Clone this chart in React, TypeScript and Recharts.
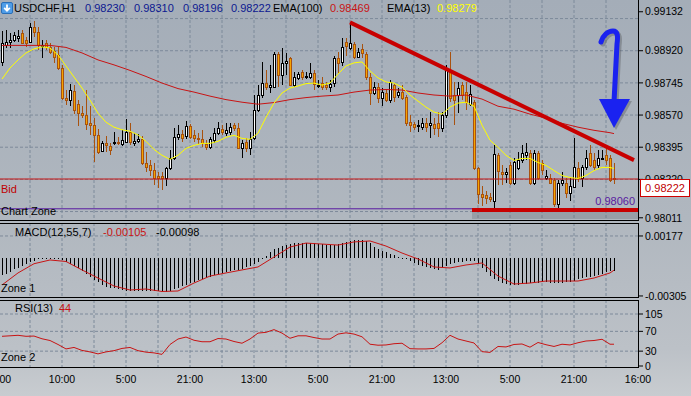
import React from 'react'
import { ComposedChart, Bar, Line, XAxis, YAxis, CartesianGrid, ReferenceLine, ReferenceArea } from 'recharts'

// USDCHF H1 candles, one per hour
const opens = [
  0.98859, 0.98952, 0.98968, 0.98979, 0.98990, 0.99018, 0.98979, 0.98968, 0.99050, 0.99023,
  0.98946, 0.98963, 0.98941, 0.98919, 0.98897, 0.98826, 0.98662, 0.98651, 0.98700, 0.98629,
  0.98580, 0.98569, 0.98525, 0.98515, 0.98460, 0.98372, 0.98416, 0.98400, 0.98416, 0.98421,
  0.98410, 0.98421, 0.98476, 0.98416, 0.98427, 0.98438, 0.98307, 0.98296, 0.98269, 0.98236,
  0.98236, 0.98225, 0.98280, 0.98334, 0.98449, 0.98465, 0.98454, 0.98509, 0.98460, 0.98443,
  0.98438, 0.98410, 0.98394, 0.98432, 0.98471, 0.98493, 0.98471, 0.98476, 0.98515, 0.98498,
  0.98389, 0.98421, 0.98389, 0.98443, 0.98597, 0.98679, 0.98744, 0.98722, 0.98722, 0.98903,
  0.98788, 0.98854, 0.98881, 0.98733, 0.98771, 0.98804, 0.98777, 0.98777, 0.98799, 0.98728,
  0.98744, 0.98733, 0.98722, 0.98744, 0.98881, 0.98859, 0.98968, 0.98936, 0.98957, 0.98886,
  0.98930, 0.98903, 0.98777, 0.98690, 0.98722, 0.98662, 0.98690, 0.98651, 0.98733, 0.98679,
  0.98695, 0.98668, 0.98531, 0.98520, 0.98509, 0.98504, 0.98525, 0.98515, 0.98520, 0.98525,
  0.98498, 0.98569, 0.98815, 0.98679, 0.98679, 0.98733, 0.98695, 0.98629, 0.98640, 0.98280,
  0.98143, 0.98137, 0.98126, 0.98104, 0.98350, 0.98258, 0.98247, 0.98296, 0.98203, 0.98280,
  0.98323, 0.98350, 0.98361, 0.98198, 0.98361, 0.98307, 0.98230, 0.98230, 0.98214, 0.98088,
  0.98198, 0.98198, 0.98148, 0.98176, 0.98280, 0.98230, 0.98285, 0.98361, 0.98323, 0.98296,
  0.98334, 0.98350, 0.98339, 0.98230,
]
const highs = [
  0.99028, 0.99034, 0.99018, 0.99023, 0.99034, 0.99034, 0.98996, 0.99072, 0.99083, 0.99050,
  0.98979, 0.98979, 0.98963, 0.98941, 0.98941, 0.98843, 0.98706, 0.98739, 0.98733, 0.98651,
  0.98618, 0.98706, 0.98618, 0.98553, 0.98493, 0.98427, 0.98454, 0.98416, 0.98476, 0.98449,
  0.98487, 0.98547, 0.98525, 0.98471, 0.98465, 0.98454, 0.98367, 0.98323, 0.98307, 0.98258,
  0.98258, 0.98290, 0.98378, 0.98498, 0.98515, 0.98487, 0.98536, 0.98520, 0.98487, 0.98471,
  0.98487, 0.98432, 0.98449, 0.98498, 0.98531, 0.98515, 0.98525, 0.98525, 0.98525, 0.98525,
  0.98432, 0.98443, 0.98476, 0.98679, 0.98733, 0.98859, 0.98815, 0.98843, 0.98914, 0.98914,
  0.98936, 0.98908, 0.98886, 0.98804, 0.98804, 0.98815, 0.98804, 0.98854, 0.98815, 0.98761,
  0.98777, 0.98750, 0.98761, 0.98892, 0.98914, 0.98990, 0.98990, 0.99078, 0.98968, 0.98936,
  0.98957, 0.98914, 0.98799, 0.98750, 0.98744, 0.98717, 0.98706, 0.98761, 0.98744, 0.98717,
  0.98733, 0.98679, 0.98569, 0.98531, 0.98542, 0.98553, 0.98553, 0.98586, 0.98553, 0.98586,
  0.98586, 0.98843, 0.98914, 0.98750, 0.98750, 0.98750, 0.98750, 0.98733, 0.98651, 0.98290,
  0.98186, 0.98159, 0.98148, 0.98405, 0.98361, 0.98296, 0.98280, 0.98312, 0.98334, 0.98367,
  0.98405, 0.98416, 0.98378, 0.98378, 0.98372, 0.98323, 0.98269, 0.98247, 0.98225, 0.98214,
  0.98258, 0.98225, 0.98230, 0.98443, 0.98312, 0.98296, 0.98378, 0.98405, 0.98361, 0.98378,
  0.98378, 0.98389, 0.98350, 0.98310,
]
const lows = [
  0.98837, 0.98936, 0.98936, 0.98968, 0.98968, 0.98957, 0.98941, 0.98963, 0.98996, 0.98925,
  0.98881, 0.98925, 0.98903, 0.98854, 0.98815, 0.98651, 0.98624, 0.98618, 0.98575, 0.98509,
  0.98553, 0.98487, 0.98460, 0.98312, 0.98356, 0.98367, 0.98367, 0.98350, 0.98405, 0.98405,
  0.98400, 0.98416, 0.98405, 0.98400, 0.98416, 0.98296, 0.98258, 0.98236, 0.98186, 0.98170,
  0.98159, 0.98186, 0.98269, 0.98323, 0.98432, 0.98421, 0.98438, 0.98438, 0.98421, 0.98410,
  0.98394, 0.98378, 0.98383, 0.98416, 0.98460, 0.98460, 0.98454, 0.98460, 0.98482, 0.98383,
  0.98334, 0.98367, 0.98350, 0.98432, 0.98586, 0.98662, 0.98706, 0.98690, 0.98717, 0.98722,
  0.98733, 0.98788, 0.98728, 0.98722, 0.98761, 0.98761, 0.98766, 0.98766, 0.98706, 0.98717,
  0.98706, 0.98706, 0.98695, 0.98722, 0.98799, 0.98837, 0.98892, 0.98925, 0.98875, 0.98881,
  0.98881, 0.98761, 0.98624, 0.98679, 0.98635, 0.98618, 0.98640, 0.98635, 0.98640, 0.98662,
  0.98651, 0.98509, 0.98476, 0.98487, 0.98476, 0.98487, 0.98476, 0.98443, 0.98460, 0.98449,
  0.98476, 0.98553, 0.98640, 0.98515, 0.98580, 0.98651, 0.98597, 0.98618, 0.98269, 0.98088,
  0.98077, 0.98088, 0.98099, 0.98061, 0.98186, 0.98186, 0.98198, 0.98186, 0.98186, 0.98269,
  0.98307, 0.98323, 0.98186, 0.98186, 0.98214, 0.98241, 0.98214, 0.98192, 0.98066, 0.98061,
  0.98181, 0.98115, 0.98104, 0.98170, 0.98203, 0.98176, 0.98269, 0.98285, 0.98269, 0.98280,
  0.98323, 0.98296, 0.98203, 0.98196,
]
const closes = [
  0.98963, 0.98968, 0.98979, 0.99007, 0.99001, 0.98963, 0.98963, 0.99050, 0.99023, 0.98952,
  0.98952, 0.98941, 0.98914, 0.98886, 0.98826, 0.98662, 0.98651, 0.98706, 0.98597, 0.98580,
  0.98569, 0.98520, 0.98515, 0.98460, 0.98367, 0.98416, 0.98405, 0.98378, 0.98421, 0.98416,
  0.98432, 0.98476, 0.98421, 0.98427, 0.98438, 0.98307, 0.98290, 0.98269, 0.98230, 0.98225,
  0.98225, 0.98280, 0.98334, 0.98449, 0.98465, 0.98443, 0.98509, 0.98449, 0.98443, 0.98438,
  0.98416, 0.98394, 0.98438, 0.98471, 0.98498, 0.98476, 0.98487, 0.98504, 0.98498, 0.98389,
  0.98416, 0.98389, 0.98438, 0.98597, 0.98679, 0.98744, 0.98722, 0.98733, 0.98903, 0.98788,
  0.98854, 0.98865, 0.98733, 0.98777, 0.98793, 0.98777, 0.98782, 0.98799, 0.98739, 0.98733,
  0.98722, 0.98722, 0.98739, 0.98881, 0.98854, 0.98941, 0.98946, 0.98963, 0.98886, 0.98914,
  0.98908, 0.98777, 0.98690, 0.98722, 0.98662, 0.98695, 0.98651, 0.98750, 0.98668, 0.98695,
  0.98662, 0.98525, 0.98515, 0.98504, 0.98515, 0.98525, 0.98504, 0.98525, 0.98498, 0.98498,
  0.98569, 0.98815, 0.98662, 0.98651, 0.98717, 0.98679, 0.98640, 0.98684, 0.98280, 0.98143,
  0.98126, 0.98121, 0.98115, 0.98356, 0.98263, 0.98247, 0.98258, 0.98203, 0.98312, 0.98323,
  0.98361, 0.98367, 0.98198, 0.98361, 0.98225, 0.98269, 0.98241, 0.98203, 0.98088, 0.98203,
  0.98214, 0.98148, 0.98186, 0.98285, 0.98230, 0.98285, 0.98334, 0.98296, 0.98285, 0.98334,
  0.98339, 0.98323, 0.98214, 0.98222,
]

// EMA(13), read every 2 bars; EMA(100) every 4 bars (last values from the header)
const ema13 = [
  0.98766, 0.98826, 0.98870, 0.98908, 0.98930, 0.98941, 0.98935, 0.98897, 0.98837, 0.98777,
  0.98717, 0.98651, 0.98580, 0.98531, 0.98504, 0.98490, 0.98482, 0.98462, 0.98427, 0.98383,
  0.98351, 0.98329, 0.98351, 0.98389, 0.98405, 0.98416, 0.98416, 0.98427, 0.98449, 0.98460,
  0.98443, 0.98438, 0.98471, 0.98558, 0.98635, 0.98690, 0.98717, 0.98728, 0.98741, 0.98744,
  0.98733, 0.98744, 0.98793, 0.98837, 0.98854, 0.98859, 0.98810, 0.98772, 0.98750, 0.98744,
  0.98722, 0.98679, 0.98646, 0.98613, 0.98586, 0.98575, 0.98613, 0.98635, 0.98640, 0.98618,
  0.98515, 0.98433, 0.98394, 0.98351, 0.98323, 0.98334, 0.98334, 0.98312, 0.98296, 0.98268,
  0.98241, 0.98230, 0.98225, 0.98241, 0.98268, 0.98285, 0.98285,
]
const ema13Last = 0.98279
const ema100 = [
  0.98949, 0.98949, 0.98949, 0.98949, 0.98938, 0.98908, 0.98870, 0.98843, 0.98813, 0.98780,
  0.98744, 0.98714, 0.98695, 0.98673, 0.98654, 0.98640, 0.98629, 0.98638, 0.98654, 0.98665,
  0.98673, 0.98679, 0.98695, 0.98706, 0.98709, 0.98706, 0.98690, 0.98679, 0.98673, 0.98679,
  0.98657, 0.98618, 0.98602, 0.98575, 0.98553, 0.98525, 0.98504, 0.98487, 0.98474,
]
const ema100Last = 0.98469

// MACD(12,55,7): histogram per bar, signal every 4 bars
const macdHist = [
  -0.00137, -0.00125, -0.00112, -0.00092, -0.00080, -0.00064, -0.00048, -0.00032, -0.00024, -0.00012,
  -0.00004, -0.00002, -0.00003, -0.00003, -0.00008, -0.00020, -0.00036, -0.00052, -0.00068, -0.00084,
  -0.00104, -0.00129, -0.00153, -0.00173, -0.00193, -0.00213, -0.00229, -0.00237, -0.00245, -0.00251,
  -0.00257, -0.00263, -0.00265, -0.00265, -0.00263, -0.00265, -0.00267, -0.00267, -0.00265, -0.00267,
  -0.00269, -0.00273, -0.00265, -0.00249, -0.00237, -0.00225, -0.00213, -0.00201, -0.00189, -0.00177,
  -0.00169, -0.00157, -0.00149, -0.00137, -0.00129, -0.00120, -0.00112, -0.00108, -0.00100, -0.00096,
  -0.00088, -0.00076, -0.00064, -0.00052, -0.00036, -0.00012, 0.00016, 0.00048, 0.00072, 0.00084,
  0.00096, 0.00108, 0.00116, 0.00120, 0.00120, 0.00122, 0.00120, 0.00118, 0.00120, 0.00116,
  0.00112, 0.00108, 0.00104, 0.00108, 0.00112, 0.00120, 0.00129, 0.00137, 0.00141, 0.00145,
  0.00141, 0.00133, 0.00120, 0.00088, 0.00072, 0.00060, 0.00048, 0.00036, 0.00024, 0.00012,
  0.00004, -0.00008, -0.00024, -0.00044, -0.00060, -0.00068, -0.00076, -0.00084, -0.00092, -0.00096,
  -0.00080, -0.00068, -0.00052, -0.00040, -0.00036, -0.00032, -0.00028, -0.00027, -0.00024, -0.00048,
  -0.00080, -0.00116, -0.00145, -0.00169, -0.00185, -0.00197, -0.00205, -0.00213, -0.00217, -0.00213,
  -0.00209, -0.00205, -0.00201, -0.00201, -0.00197, -0.00193, -0.00193, -0.00197, -0.00201, -0.00201,
  -0.00197, -0.00193, -0.00189, -0.00181, -0.00169, -0.00161, -0.00153, -0.00149, -0.00141, -0.00133,
  -0.00125, -0.00116, -0.00108, -0.00105,
]
const macdSignal = [
  -0.00217, -0.00120, -0.00046, -0.00016, -0.00028, -0.00096, -0.00161, -0.00225, -0.00257, -0.00249,
  -0.00269, -0.00265, -0.00201, -0.00145, -0.00120, -0.00096, -0.00072, 0.00008, 0.00088, 0.00120,
  0.00112, 0.00104, 0.00129, 0.00137, 0.00096, 0.00040, -0.00008, -0.00072, -0.00080, -0.00056,
  -0.00040, -0.00145, -0.00209, -0.00201, -0.00185, -0.00185, -0.00185, -0.00161, -0.00120,
]
const macdSignalLast = -0.00098

// RSI(13), read every 2 bars
const rsi = [
  60, 61, 62, 60, 60.5, 55, 51.5, 43.5, 34.5, 37.5,
  31.5, 28.5, 24.5, 28.5, 31, 35.5, 37.5, 31, 28, 26.5,
  23.5, 43.5, 54.5, 58.5, 52, 49, 49, 55.5, 54.5, 49.5,
  46, 54.5, 66.5, 68, 73.5, 66.5, 56, 61, 61, 57.5,
  54.5, 54.5, 64.5, 67, 64.5, 59, 44, 42, 42.5, 45,
  46, 35, 34.5, 34.5, 35.5, 47, 62, 54.5, 50.5, 46.5,
  29, 27.5, 39.5, 38.5, 43.5, 44.5, 38, 47.5, 43, 39.5,
  44, 42.5, 47, 50.5, 51.5, 54, 44,
]
const rsiLast = 44

const priceTicks = [0.99132, 0.9892, 0.98745, 0.9857, 0.98395, 0.9822, 0.98011]
const priceGrid = [0.99095, 0.9892, 0.98745, 0.9857, 0.98395, 0.9822, 0.98045]
const macdTicks = [0.00177, -0.00305]
const rsiTicks = [0, 30, 70, 105]
const gridBars = [7, 15, 23, 31, 39, 47, 55, 63, 71, 79, 87, 95, 103, 111, 119, 127, 135, 143, 151]
const timeTicks = [-1, 15, 31, 47, 63, 79, 95, 111, 127, 143, 159]
const timeLabels = ['18:00', '10:00', '5:00', '21:00', '13:00', '5:00', '21:00', '13:00', '5:00', '21:00', '16:00']

const bid = 0.98222
const zoneLevel = 0.9806

const W = 691
const AXIS_W = 53
const X_DOMAIN = [-0.5, 159]
const GRID = '#7d8a9a'
const FONT = '"Liberation Sans", Arial, sans-serif'
const tickStyle = { fontSize: 10.5, fill: '#000' }

const candles = opens.map((open, i) => ({ i, open, high: highs[i], low: lows[i], close: closes[i] }))
const ema13Data = ema13.map((v, k) => ({ i: k * 2, v })).concat([{ i: 153, v: ema13Last }])
const ema100Data = ema100.map((v, k) => ({ i: k * 4, v })).concat([{ i: 153, v: ema100Last }])
const histData = macdHist.map((h, i) => ({ i, h }))
const signalData = macdSignal.map((v, k) => ({ i: k * 4, v })).concat([{ i: 153, v: macdSignalLast }])
const rsiData = rsi.map((v, k) => ({ i: k * 2, v })).concat([{ i: 153, v: rsiLast }])

const Candle = (props: any) => {
  const { x, y, width, height, payload } = props
  if (!payload) return null
  const { open, close, high, low } = payload
  const cx = Math.round(x + width / 2)
  const k = high === low ? 0 : height / (high - low)
  const py = (p: number) => y + (high - p) * k
  const bull = close >= open
  const edge = bull ? '#000000' : '#a8520f'
  const fill = bull ? '#ffffff' : '#f6a400'
  const top = Math.round(py(Math.max(open, close)))
  const bot = Math.round(py(Math.min(open, close)))
  const bodyH = Math.max(bot - top, 1)
  return (
    <g>
      <rect x={cx} y={Math.round(y)} width={1} height={Math.max(Math.round(height), 1)} fill={edge} />
      <rect x={cx - 1} y={top} width={3} height={bodyH + 1} fill={edge} />
      {bodyH > 1 && <rect x={cx} y={top + 1} width={1} height={bodyH - 1} fill={fill} />}
    </g>
  )
}

const HistBar = (props: any) => {
  const { x, y, width, height } = props
  const top = Math.round(Math.min(y, y + height))
  const h = Math.max(Math.round(Math.abs(height)), 1)
  return <rect x={Math.round(x + width / 2)} y={top} width={1} height={h} fill="#000" />
}

const Tag = ({ x, y, color = '#000', size = 11, right = false, children }: any) => (
  <div
    style={{
      position: 'absolute',
      top: y - 7,
      ...(right ? { right: W - x } : { left: x }),
      height: 14,
      lineHeight: '14px',
      fontSize: size,
      color,
      whiteSpace: 'nowrap',
    }}
  >
    {children}
  </div>
)

const Box = ({ top, height }: { top: number; height: number }) => (
  <div
    style={{
      position: 'absolute',
      left: -1,
      top,
      width: W - AXIS_W + 2,
      height,
      border: '1px solid #000',
      boxSizing: 'border-box',
    }}
  />
)

export default function App() {
  return (
    <div
      style={{
        position: 'absolute',
        left: 0,
        top: 0,
        width: W,
        height: 396,
        overflow: 'hidden',
        fontFamily: FONT,
        background: 'linear-gradient(180deg, #a4adb8 0%, #b0b7bf 55%, #bcc1c7 88%, #c8ccd0 100%)',
      }}
    >
      <style>{'.recharts-surface{overflow:visible}'}</style>

      {/* price window */}
      <div style={{ position: 'absolute', left: 0, top: 0 }}>
        <ComposedChart width={W} height={220} data={candles} margin={{ top: 0, right: 0, bottom: 0, left: 0 }}>
          <XAxis dataKey="i" type="number" domain={X_DOMAIN} allowDataOverflow hide />
          <YAxis
            orientation="right"
            width={AXIS_W}
            domain={[0.97999, 0.99196]}
            allowDataOverflow
            ticks={priceTicks}
            interval={0}
            tickFormatter={(v: number) => v.toFixed(5)}
            axisLine={false}
            tickLine={{ stroke: '#000' }}
            tickSize={5}
            tickMargin={2}
            tick={tickStyle}
          />
          <CartesianGrid stroke={GRID} strokeDasharray="3 2" horizontalValues={priceGrid} verticalValues={gridBars} />
          <ReferenceArea x1={117.5} x2={159} y1={0.98004} y2={0.98045} fill="#6d737a" fillOpacity={0.35} stroke="none" />
          <ReferenceLine y={zoneLevel} stroke="#5a1aa0" strokeWidth={1} />
          <ReferenceLine y={bid} stroke="#c81414" strokeWidth={1} />
          <Bar dataKey={(d: any) => [d.low, d.high]} barSize={3} shape={<Candle />} isAnimationActive={false} />
          <Line data={ema100Data} dataKey="v" type="linear" stroke="#c81414" strokeWidth={1} dot={false} isAnimationActive={false} />
          <Line data={ema13Data} dataKey="v" type="linear" stroke="#ffff00" strokeWidth={1} dot={false} isAnimationActive={false} />
          <ReferenceLine
            segment={[{ x: 87, y: 0.99074 }, { x: 158, y: 0.98325 }]}
            stroke="#c80000"
            strokeWidth={4}
          />
          <ReferenceLine
            segment={[{ x: 117.5, y: 0.98053 }, { x: 159, y: 0.98053 }]}
            stroke="#c80000"
            strokeWidth={4}
          />
        </ComposedChart>
      </div>

      {/* MACD window */}
      <div style={{ position: 'absolute', left: 0, top: 223 }}>
        <ComposedChart width={W} height={74} data={histData} margin={{ top: 0, right: 0, bottom: 0, left: 0 }}>
          <XAxis dataKey="i" type="number" domain={X_DOMAIN} allowDataOverflow hide />
          <YAxis
            orientation="right"
            width={AXIS_W}
            domain={[-0.003133, 0.002812]}
            allowDataOverflow
            ticks={macdTicks}
            interval={0}
            tickFormatter={(v: number) => v.toFixed(5)}
            axisLine={false}
            tickLine={{ stroke: '#000' }}
            tickSize={5}
            tickMargin={2}
            tick={tickStyle}
          />
          <CartesianGrid stroke={GRID} strokeDasharray="3 2" horizontalValues={[0.00177]} verticalValues={gridBars} />
          <Bar dataKey="h" barSize={1} shape={<HistBar />} isAnimationActive={false} />
          <Line data={signalData} dataKey="v" type="linear" stroke="#c81414" strokeWidth={1} dot={false} isAnimationActive={false} />
        </ComposedChart>
      </div>

      {/* RSI window + time scale */}
      <div style={{ position: 'absolute', left: 0, top: 300 }}>
        <ComposedChart width={W} height={96} data={rsiData} margin={{ top: 0, right: 0, bottom: 0, left: 0 }}>
          <XAxis
            dataKey="i"
            type="number"
            domain={X_DOMAIN}
            allowDataOverflow
            ticks={timeTicks}
            interval={0}
            tickFormatter={(v: number) => timeLabels[timeTicks.indexOf(v)]}
            axisLine={false}
            tickLine={false}
            tickSize={0}
            tickMargin={9}
            height={29}
            tick={tickStyle}
          />
          <YAxis
            orientation="right"
            width={AXIS_W}
            domain={[-2, 133.3]}
            allowDataOverflow
            ticks={rsiTicks}
            interval={0}
            axisLine={false}
            tickLine={{ stroke: '#000' }}
            tickSize={5}
            tickMargin={2}
            tick={tickStyle}
          />
          <CartesianGrid stroke={GRID} strokeDasharray="3 2" horizontalValues={[105, 70, 30]} verticalValues={gridBars} />
          <Line dataKey="v" type="linear" stroke="#c81414" strokeWidth={1} dot={false} isAnimationActive={false} />
        </ComposedChart>
      </div>

      {/* window frames */}
      <Box top={-1} height={222} />
      <Box top={223} height={75} />
      <Box top={300} height={68} />

      {/* hand-drawn blue arrow */}
      <svg style={{ position: 'absolute', left: 0, top: 0, pointerEvents: 'none' }} width={W} height={220}>
        <g transform="translate(2,2)" opacity={0.28}>
          <path d="M601 42 C603 35 608 31 613 31 C618 31 618 37 617 44 L614 102" stroke="#333" strokeWidth={5} fill="none" strokeLinecap="round" />
          <polygon points="599,99 630,99 614,128" fill="#333" />
        </g>
        <path d="M601 42 C603 35 608 31 613 31 C618 31 618 37 617 44 L614 102" stroke="#1a22f0" strokeWidth={5} fill="none" strokeLinecap="round" />
        <polygon points="599,99 630,99 614,128" fill="#1a22f0" />
      </svg>

      {/* header */}
      <svg style={{ position: 'absolute', left: 1, top: 2 }} width={12} height={12}>
        <rect x={0.5} y={0.5} width={11} height={11} rx={1.5} fill="#4f9de8" stroke="#2a6fb8" />
        <path d="M6 2.5 V8.5 M3.2 5.8 L6 8.8 L8.8 5.8" stroke="#fff" strokeWidth={1.8} fill="none" />
      </svg>
      <Tag x={14} y={8}>USDCHF,H1</Tag>
      <Tag x={85} y={8} color="#0c1890">0.98230</Tag>
      <Tag x={134} y={8} color="#0c1890">0.98310</Tag>
      <Tag x={183} y={8} color="#0c1890">0.98196</Tag>
      <Tag x={231} y={8} color="#0c1890">0.98222</Tag>
      <Tag x={273} y={8}>EMA(100)</Tag>
      <Tag x={330} y={8} color="#c81414">0.98469</Tag>
      <Tag x={387} y={8}>EMA(13)</Tag>
      <Tag x={437} y={8} color="#ffff00">0.98279</Tag>

      <Tag x={1} y={189} color="#c00000">Bid</Tag>
      <Tag x={1} y={211}>Chart Zone</Tag>
      <Tag x={635} y={201} color="#5a1aa0" right>0.98060</Tag>

      <Tag x={15} y={232}>MACD(12,55,7)</Tag>
      <Tag x={103} y={232} color="#c81414">-0.00105</Tag>
      <Tag x={156} y={232}>-0.00098</Tag>
      <Tag x={1} y={288}>Zone 1</Tag>

      <Tag x={15} y={308}>RSI(13)</Tag>
      <Tag x={59} y={308} color="#c81414">44</Tag>
      <Tag x={1} y={357}>Zone 2</Tag>

      {/* bid price label */}
      <div
        style={{
          position: 'absolute',
          left: 640,
          top: 179,
          width: 50,
          height: 18,
          boxSizing: 'border-box',
          border: '1px solid #d00000',
          background: '#fff',
          color: '#c00000',
          fontSize: 11,
          lineHeight: '16px',
          textAlign: 'center',
        }}
      >
        0.98222
      </div>
    </div>
  )
}
